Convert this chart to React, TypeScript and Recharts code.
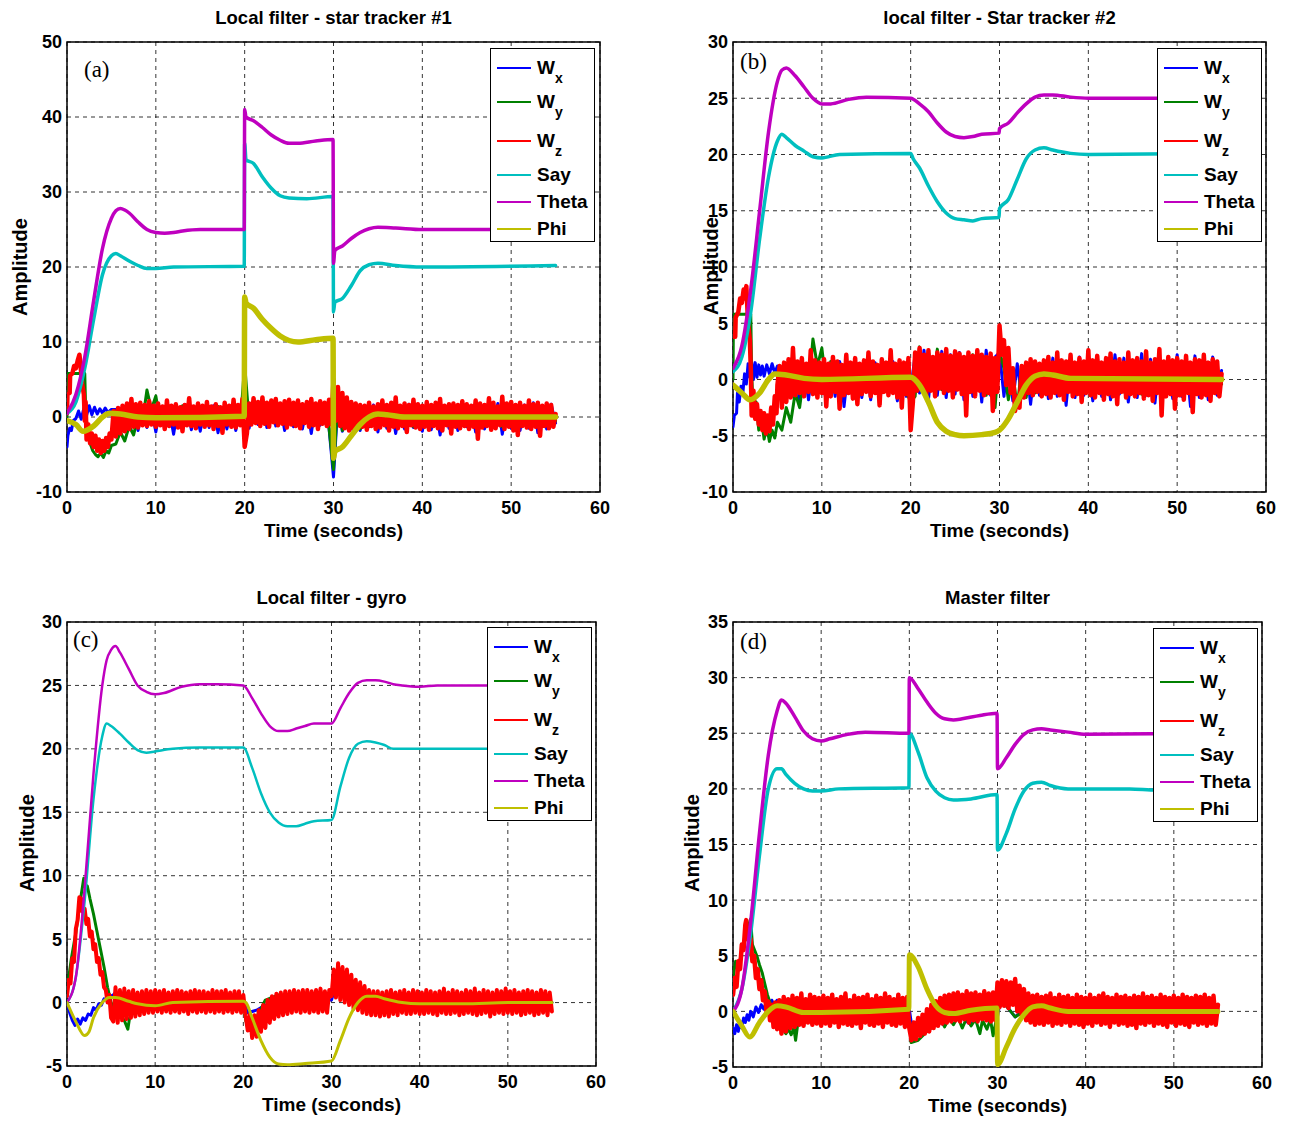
import React from "react";
import { CartesianGrid, Line, LineChart, ReferenceArea, XAxis, YAxis } from "recharts";

type Pt = { t: number; v: number };

const timeTicks = [0, 10, 20, 30, 40, 50, 60];
const seriesNames = ["Wx", "Wy", "Wz", "Say", "Theta", "Phi"];
const seriesColors = ["#0000ff", "#008000", "#ff0000", "#00bfbf", "#bf00bf", "#bfbf00"];

// ---------- (a) Local filter - star tracker #1 ----------
const yTicksA = [-10, 0, 10, 20, 30, 40, 50];
const thetaA = [[0, 0.5], [1, 3], [2, 8], [3, 15.5], [4, 22.5], [5, 26.5], [5.5, 27.5], [6, 27.8], [6.5, 27.6], [7, 27.2], [8, 26], [9, 25], [10, 24.6], [11, 24.5], [12, 24.6], [13, 24.8], [15, 25], [19.95, 25], [20, 41], [20.15, 40], [21, 39.5], [22, 38.6], [23, 37.6], [24, 36.9], [25, 36.5], [26, 36.5], [28, 36.8], [29.95, 37], [30, 20.5], [30.15, 22.2], [31, 22.8], [32, 23.8], [33, 24.6], [34, 25.1], [35, 25.3], [37, 25.2], [40, 25], [55, 25]];
const sayA = [[0, 0.5], [1, 2], [2, 6.5], [3, 13], [4, 19], [5, 21.5], [5.5, 21.8], [6, 21.5], [7, 20.8], [8, 20.2], [9, 19.8], [10, 19.8], [12, 20], [19.95, 20.1], [20, 36.5], [20.15, 34.3], [21, 33.8], [22, 32], [23, 30.5], [24, 29.5], [25, 29.2], [27, 29.1], [29.95, 29.4], [30, 14], [30.15, 15.3], [31, 15.8], [32, 17.5], [33, 19.5], [34, 20.3], [35, 20.5], [37, 20.2], [40, 20], [55, 20.2]];
const phiA = [[0, -0.5], [1, -1], [1.8, -1.9], [3, -1.2], [4, 0], [4.8, 0.5], [6, 0.4], [8, 0], [10, -0.1], [19.95, 0.1], [20, 16], [20.15, 15.2], [21, 14.5], [22, 13], [23, 11.8], [24, 10.8], [25, 10.2], [26, 10], [28, 10.3], [29.95, 10.5], [30, -5.5], [30.15, -4.6], [31, -4], [32, -2.5], [33, -1], [34, 0], [35, 0.4], [36, 0.3], [38, 0], [55, 0]];
const wxHeadA = [[0, -4], [0.1, -2.5], [0.3, -1.5], [0.5, -1.8], [0.7, -0.5], [1, -0.2], [1.3, 0.8], [1.6, -0.3], [1.9, 1.2], [2.2, 0.2], [2.5, 1.5], [2.8, 0.3], [3.1, 1.3], [3.4, 0.4], [3.7, 1.1], [4, 0.5], [4.3, 1.2], [4.6, 0.6], [5, 1.0]];
const wxNoiseA = [
  1.0, -1.2, 1.3, -1.5, 0.9, -1.8, 1.2, -1.4, 1.1, -2.0,
  1.3, -1.6, 1.0, -2.3, 1.2, -1.5, 1.4, -1.7, 0.9, -1.9,
  1.1, -1.4, 1.5, -2.1, 1.0, -1.6, 1.3, -1.8, 1.2, -1.5,
  -1.5, 1.6, -1.0, 1.8, -1.4, 2.0, -1.2, 1.5, -1.8, 1.7,
  -1.3, 1.9, -1.6, 1.4, -2.2, 1.8, -1.1, 1.5, -1.5, -8.0,
  2.0, -1.9, 1.5, -1.6, 1.2, -1.8, 1.4, -1.3, 1.6, -2.0,
  1.2, -1.5, 1.4, -2.2, 1.1, -1.6, 1.7, -1.4, 1.3, -1.9,
  1.5, -1.7, 1.2, -2.4, 1.4, -1.5, 1.0, -1.8, 1.6, -1.3,
  1.3, -2.0, 1.1, -1.6, 1.5, -1.4, 1.8, -2.3, 1.2, -1.5,
  1.4, -1.8, 1.6, -1.5, 1.9, -2.1, 1.3, -1.6, 1.7, -0.8,
];
const wyHeadA = [[0, 0], [0.05, 5.8], [2.0, 5.8], [2.1, 1], [2.3, -2], [2.6, -3.5], [2.9, -4.5], [3.2, -5], [3.5, -5.3], [3.8, -4.8], [4.1, -5.4], [4.4, -4.5], [4.7, -4.8], [5, -3.8]];
const wyNoiseA = [
  -3.6, -2.0, -3.2, -1.2, -2.4, 0.2, -0.6, 3.6, 1.0, 2.8,
  -0.8, 1.4, -1.0, 1.2, -0.9, 1.5, -1.1, 1.0, -0.7, 1.3,
  -1.0, 1.2, -0.8, 1.4, -1.2, 1.1, -0.9, 1.3, -1.0, 7.0,
  -0.5, 2.2, 0.1, 2.5, -0.4, 2.0, -0.6, 1.8, -0.8, 1.6,
  -1.0, 1.5, -0.7, 1.3, -1.1, 1.2, -0.9, 1.4, -1.5, -7.0,
  2.5, -1.8, 1.8, -1.5, 1.2, -1.6, 0.9, -1.2, 1.0, -1.0,
  1.1, -1.2, 0.8, -1.0, 1.3, -0.9, 1.0, -1.3, 0.9, -1.1,
  1.2, -0.8, 1.0, -1.2, 0.9, -1.0, 1.1, -0.9, 1.3, -1.1,
  0.8, -1.2, 1.0, -0.9, 1.2, -1.0, 0.9, -1.3, 1.1, -0.8,
  1.0, -1.1, 1.2, -0.9, 0.8, -1.2, 1.1, -1.0, 0.9, -0.5,
];
const wzHeadA = [[0, 0.5], [0.05, 3], [0.3, 3.2], [0.35, 5.5], [0.6, 5.8], [0.8, 6.8], [1.0, 6.5], [1.2, 7.5], [1.4, 8.3], [1.5, 7.2], [1.7, 4.5], [1.9, 3], [2.0, -0.5], [2.1, 2], [2.2, -3], [2.4, -1], [2.6, -3.5], [2.8, -2.2], [3.0, -4], [3.2, -2.5], [3.4, -4.5], [3.6, -3], [3.8, -4.8], [4.0, -3.2], [4.2, -4.5], [4.4, -2.8], [4.6, -4.0], [4.8, -2.2], [5.0, -3.0]];
const wzNoiseA = [
  0.8, -2.6, 1.2, -2.2, 1.5, -1.9, 1.8, -1.6, 2.4, -1.3, 1.7, -1.4, 1.9, -1.1, 1.6, -1.2, 2.1, -1.0, 1.5, -1.3,
  1.8, -1.1, 1.4, -1.6, 2.2, -1.2, 1.5, -1.0, 1.7, -1.4, 1.3, -1.9, 1.6, -1.1, 2.5, -1.2, 1.4, -1.5, 1.8, -1.0,
  1.5, -1.3, 2.0, -1.1, 1.4, -1.6, 1.7, -1.2, 1.3, -2.1, 1.9, -1.0, 1.5, -1.3, 2.3, -1.4, 1.6, -1.1, 2.4, -4.0,
  -2.2, 1.8, -1.0, 2.5, -0.8, 2.0, -1.2, 2.6, -0.9, 1.9, -1.3, 2.2, -0.7, 2.4, -1.1, 1.8, -0.9, 2.1, -1.4, 2.3,
  -1.0, 1.9, -1.2, 2.2, -1.5, 1.7, -0.8, 2.0, -1.3, 2.4, -1.1, 1.8, -1.6, 2.1, -0.9, 1.9, -1.2, 2.3, -1.0, 5.0,
  -0.5, 4.0, -1.2, 3.2, -1.5, 2.6, -1.8, 2.0, -1.6, 1.8, -1.5, 1.6, -1.3, 1.5, -1.7, 1.9, -1.2, 1.4, -1.6, 1.7,
  -1.4, 2.2, -1.1, 1.6, -1.8, 1.9, -1.3, 2.6, -1.5, 1.5, -1.2, 1.8, -2.0, 1.6, -1.1, 2.3, -1.4, 1.7, -1.6, 1.5,
  -1.3, 2.0, -1.7, 1.6, -1.2, 1.9, -1.5, 2.4, -1.8, 1.5, -1.1, 1.7, -2.2, 1.8, -1.3, 1.6, -1.5, 2.1, -1.2, 1.7,
  -1.6, 1.5, -1.3, 2.2, -2.9, 1.8, -1.4, 1.6, -1.2, 2.5, -1.7, 1.9, -1.5, 1.4, -1.1, 2.7, -1.6, 1.8, -1.3, 2.0,
  -1.8, 1.6, -2.4, 1.9, -1.2, 1.5, -1.4, 2.2, -1.6, 1.7, -1.3, 1.9, -2.5, 1.5, -1.2, 1.8, -1.5, 1.6, -1.3, 0.4,
];

// ---------- (b) local filter - Star tracker #2 ----------
const yTicksB = [-10, -5, 0, 5, 10, 15, 20, 25, 30];
const thetaB = [[0, 1], [1, 3], [2, 8], [3, 15], [4, 22], [5, 26.5], [5.5, 27.5], [6, 27.7], [7, 27], [8, 26], [9, 25], [10, 24.5], [11, 24.5], [13, 24.9], [15, 25.1], [20, 25], [21, 24.5], [22, 23.8], [23, 22.8], [24, 22], [25, 21.6], [26, 21.5], [27, 21.6], [28, 21.8], [29.95, 21.9], [30, 22.3], [31, 22.8], [32, 23.7], [33, 24.5], [34, 25.1], [35, 25.3], [36, 25.3], [38, 25.1], [40, 25], [55, 25]];
const sayB = [[0, 0.7], [1, 2], [2, 6], [3, 12.5], [4, 18], [5, 21.2], [5.5, 21.8], [6, 21.5], [7, 20.8], [8, 20.3], [9, 19.8], [10, 19.7], [12, 20], [20, 20.1], [20.3, 19.6], [21, 18.8], [22, 17.2], [23, 15.8], [24, 14.8], [25, 14.3], [26, 14.2], [27, 14.1], [28, 14.3], [29.95, 14.4], [30, 15.2], [31, 16], [32, 17.8], [33, 19.6], [34, 20.4], [35, 20.6], [36, 20.4], [38, 20.1], [40, 20], [55, 20.1]];
const phiB = [[0, -0.5], [1, -1.2], [1.9, -1.8], [3, -1.2], [4, 0], [4.7, 0.5], [6, 0.4], [8, 0.1], [10, 0], [20, 0.2], [21, -0.5], [22, -2], [23, -3.8], [24, -4.6], [25, -4.9], [26, -5], [28, -4.9], [29.5, -4.7], [30, -4.5], [31, -3.5], [32, -2], [33, -0.5], [34, 0.3], [35, 0.5], [36, 0.4], [38, 0.1], [55, 0]];
const wxHeadB = [[0, -4.2], [0.15, -3.2], [0.4, -3], [0.5, -1.2], [0.7, -2], [0.9, -0.6], [1.1, -1.3], [1.3, 0.5], [1.5, -0.4], [1.7, 1.4], [1.9, 0.2], [2.1, 1.6], [2.3, 0], [2.5, 1.5], [2.7, 0.2], [2.9, 1.3], [3.1, 0.4], [3.3, 1.2], [3.5, 0.3], [3.8, 1.3], [4.1, 0.5], [4.4, 1.4], [4.7, 0.6], [5, 1.2]];
const wxNoiseB = [
  -1.0, 1.4, -1.6, 1.2, -2.0, 1.1, -1.8, 1.3, -1.4, 1.0,
  -2.1, 1.3, -1.5, 1.6, -2.4, 1.2, -1.7, 1.4, -1.6, 1.1,
  -1.8, 1.5, -2.2, 1.3, -1.4, 1.6, -1.9, 1.2, -1.5, -1.0,
  2.2, -1.2, 2.6, -1.8, 2.0, -1.4, 2.5, -1.6, 2.2, -1.3,
  2.4, -1.8, 2.1, -1.5, 2.3, -2.0, 2.6, -1.4, 2.0, 2.4,
  -1.5, 1.8, -1.9, 1.4, -1.6, 1.5, -2.2, 1.3, -1.4, 1.6,
  -1.7, 1.9, -1.5, 1.4, -2.3, 1.8, -1.6, 2.0, -1.4, 1.5,
  -1.9, 2.1, -1.5, 1.7, -1.8, 2.2, -1.3, 1.9, -2.0, 1.6,
  -1.6, 2.3, -1.4, 1.8, -2.1, 2.0, -1.5, 1.9, -1.7, 2.2,
  -1.5, 1.8, -2.4, 2.1, -1.6, 1.9, -1.8, 2.0, -1.4, 0.8,
];
const wyHeadB = [[0, 0], [0.05, 5.8], [2.0, 5.8], [2.1, 0.5], [2.3, -3], [2.6, -2], [2.9, -4.5], [3.2, -3.5], [3.5, -5.3], [3.8, -4.2], [4.1, -5.5], [4.4, -4.5], [4.7, -5.2], [5.0, -3.8]];
const wyNoiseB = [
  -4.5, -2.5, -3.8, -1.2, -2.5, 0.5, -0.8, 3.6, 1.2, 2.8,
  -0.5, 1.6, -1.0, 1.3, -0.9, 1.5, -1.2, 1.2, -0.8, 1.4,
  -1.1, 1.3, -0.9, 1.5, -1.0, 1.2, -0.8, 1.4, -1.1, -2.0,
  -1.5, 2.9, -0.8, 2.5, -0.5, 2.7, -0.9, 2.2, -1.0, 2.4,
  -0.7, 2.0, -1.2, 2.2, -0.9, 1.8, -1.4, 1.9, -2.5, 2.5,
  1.0, -1.8, 0.5, -2.5, 1.2, -1.6, 1.0, -1.2, 1.1, -1.0,
  1.1, -1.2, 0.9, -1.0, 1.2, -1.1, 0.8, -1.3, 1.0, -0.9,
  1.2, -1.0, 0.9, -1.2, 1.1, -0.8, 1.3, -1.1, 0.9, -1.0,
  1.0, -1.3, 1.1, -0.9, 1.2, -1.1, 0.8, -1.0, 1.1, -1.2,
  0.9, -1.0, 1.2, -1.1, 1.0, -0.9, 1.1, -1.2, 0.8, -0.4,
];
const wzHeadB = [[0, 3.8], [0.25, 3.8], [0.3, 5.5], [0.6, 6], [0.8, 7.2], [1.0, 6.8], [1.2, 8.0], [1.35, 7.2], [1.5, 8.3], [1.7, 5], [1.9, 3.5], [2.0, 1], [2.1, -3.2], [2.3, -1], [2.5, -3.5], [2.7, -2.2], [2.9, -4], [3.1, -2.8], [3.3, -4.5], [3.5, -3], [3.7, -4.8], [3.9, -3.2], [4.1, -4.6], [4.3, -2.5], [4.5, -4], [4.7, -1.5], [4.9, -3], [5.0, -0.5]];
const wzNoiseB = [
  1.2, -2.5, 1.5, -2.0, 1.8, -1.6, 2.8, -1.4, 1.6, -1.2, 1.9, -1.5, 1.4, -1.1, 2.6, -1.3, 1.7, -1.6, 1.5, -1.2,
  1.8, -2.4, 1.4, -1.5, 2.0, -1.1, 1.6, -2.6, 1.3, -1.4, 2.2, -1.2, 1.5, -1.7, 1.9, -2.2, 1.4, -1.3, 1.7, -1.1,
  2.4, -1.5, 1.6, -1.2, 1.3, -2.3, 1.8, -1.1, 1.5, -1.4, 2.6, -1.2, 1.4, -1.6, 1.7, -2.5, 1.5, -1.3, 1.9, -4.5,
  -2.0, 2.4, -1.0, 2.8, -0.6, 2.2, -1.4, 2.6, -1.0, 2.0, -1.5, 2.4, -0.8, 2.2, -1.2, 2.7, -1.0, 2.1, -1.6, 2.5,
  -0.9, 2.3, -1.3, 2.0, -3.2, 2.4, -1.1, 2.1, -1.5, 2.6, -1.0, 2.2, -1.4, 2.0, -1.2, 2.3, -2.8, 1.9, -1.1, 4.8,
  2.2, 3.5, -0.5, 2.8, -1.2, 1.0, -2.8, -1.5, -2.5, 1.2, -1.6, 1.5, -1.2, 1.8, -1.4, 1.6, -1.1, 1.4, -1.5, 1.7,
  -1.3, 2.0, -1.6, 1.5, -1.2, 2.4, -1.4, 1.7, -1.8, 1.6, -1.1, 2.2, -1.5, 1.5, -1.3, 1.9, -2.0, 1.6, -1.2, 2.6,
  -1.4, 1.7, -1.6, 2.1, -1.2, 1.5, -1.8, 1.9, -1.3, 2.3, -1.5, 1.6, -2.2, 1.8, -1.1, 1.5, -1.6, 2.4, -1.3, 1.7,
  -1.5, 1.9, -1.2, 1.6, -1.7, 2.5, -1.4, 1.5, -1.9, 1.8, -1.2, 2.7, -3.2, 1.6, -1.5, 2.0, -1.3, 1.7, -2.6, 1.9,
  -1.4, 1.6, -1.8, 2.1, -1.2, 1.5, -2.9, 1.8, -1.3, 1.7, -1.6, 2.2, -1.4, 1.5, -1.9, 1.8, -1.2, 1.6, -1.5, 0.5,
];

// ---------- (c) Local filter - gyro ----------
const yTicksC = [-5, 0, 5, 10, 15, 20, 25, 30];
const thetaC = [[0, 0], [1, 2], [2, 9], [3, 18], [4, 25], [4.5, 27], [5, 27.8], [5.5, 28.1], [6, 27.6], [7, 26.3], [8, 25], [9, 24.5], [10, 24.3], [11, 24.4], [13, 24.9], [15, 25.1], [17, 25.1], [20, 25], [21, 24], [22, 22.8], [23, 21.8], [24, 21.4], [25, 21.4], [26, 21.6], [27, 21.8], [28, 22], [30, 22], [31, 23.2], [32, 24.4], [33, 25.2], [34, 25.4], [35, 25.4], [36, 25.3], [37, 25.1], [38, 25], [40, 24.9], [42, 25], [55, 25]];
const sayC = [[0, 0], [1, 2], [2, 8], [3, 16], [4, 21], [4.5, 22], [5, 21.8], [6, 21.2], [7, 20.5], [8, 19.9], [9, 19.7], [10, 19.8], [12, 20], [15, 20.1], [20, 20.1], [21, 18.5], [22, 16.5], [23, 15], [24, 14.2], [25, 13.9], [26, 13.9], [27, 14.1], [28, 14.3], [30, 14.4], [31, 17], [32, 19.3], [33, 20.4], [34, 20.6], [35, 20.5], [36, 20.3], [37, 20], [40, 20], [45, 20], [48, 20], [55, 20.1]];
const phiC = [[0, 0], [1, -1.5], [2, -2.6], [2.5, -2.3], [3, -1.2], [4, 0], [4.8, 0.4], [5.5, 0.4], [7, 0.1], [8, -0.1], [10, -0.25], [12, 0], [20, 0.1], [20.3, 0], [21, -1.2], [22, -3], [23, -4.3], [24, -4.85], [25, -4.9], [27, -4.8], [30, -4.6], [31, -3], [32, -1.2], [33, 0], [34, 0.5], [35, 0.5], [36, 0.3], [38, 0], [40, -0.1], [45, -0.1], [50, 0], [55, 0]];
const wxC = [[0, 0], [0.3, -0.8], [0.6, -1.4], [0.9, -1.8], [1.2, -1.3], [1.5, -1.7], [1.8, -1.2], [2.1, -1.4], [2.4, -0.9], [2.7, -1.0], [3.0, -0.4], [3.3, -0.6], [3.6, -0.1], [3.9, -0.2], [4.2, 0.3], [4.5, 0.2], [4.8, 0.6], [5.1, 0.5], [5.5, 0.8], [6, 0.6], [6.5, 0.8], [7, 0.6], [7.5, 0.5], [8, 0.3], [10, 0.2], [15, 0.2], [20, 0.2], [20.5, -0.8], [21.5, -0.6], [22.5, -0.2], [24, 0.1], [30, 0.2], [30.3, 0.9], [31.5, 0.6], [32.5, 0.2], [33, -0.5], [34, 0.1], [55, 0]];
const wyC = [[0, 1], [0.5, 3.5], [1, 5.5], [1.5, 8], [1.9, 9.8], [2.1, 9.0], [2.3, 9.2], [2.6, 8.2], [3.0, 7.0], [3.4, 5.6], [3.8, 4.2], [4.2, 2.8], [4.6, 1.2], [5.0, 0.0], [5.5, -0.6], [6.0, -1.0], [6.5, -1.4], [6.9, -2.1], [7.1, -1.2], [7.6, -0.6], [8.5, -0.3], [10, 0], [20, 0], [20.3, -1.5], [21, -1.8], [22, -0.5], [22.5, 0.2], [24, 0.6], [29.9, 0.5], [30.2, 1.3], [31, 1.0], [32, 0.5], [33, 0], [55, 0]];
const wzHeadC = [[0, 0.5], [0.2, 1.8], [0.4, 1.5], [0.6, 3.5], [0.8, 3.2], [1.0, 5.8], [1.2, 6.5], [1.4, 8.3], [1.5, 7.6], [1.6, 8.2], [1.7, 7.2], [1.8, 7.8], [1.9, 6.8], [2.0, 7.4], [2.2, 6.2], [2.4, 6.6], [2.6, 5.2], [2.8, 5.6], [3.0, 4.2], [3.2, 4.6], [3.4, 3.2], [3.6, 3.5], [3.8, 2.2], [4.0, 2.4], [4.2, 1.2], [4.4, 1.0], [4.6, 0.0], [4.8, 0.6], [5.0, -1.2]];
const wzNoiseC = [
  -1.5, 1.2, -1.6, 1.0, -1.4, 1.1, -1.3, 0.9, -1.2, 1.0, -1.1, 0.8, -1.0, 0.9, -0.9, 1.0, -0.8, 0.9, -0.8, 1.0,
  -0.7, 0.9, -0.8, 1.0, -0.7, 0.8, -0.8, 0.9, -0.7, 1.0, -0.8, 0.9, -0.7, 0.8, -0.9, 0.9, -0.7, 1.0, -0.8, 0.9,
  -0.7, 0.9, -0.8, 0.8, -0.7, 1.0, -0.8, 0.9, -0.7, 0.9, -0.8, 1.0, -0.7, 0.8, -0.8, 0.9, -0.7, 0.9, -0.8, 0.6,
  -1.0, -2.2, -0.9, -2.8, -1.0, -2.7, -0.6, -2.3, -0.2, -2.0, 0.2, -1.6, 0.5, -1.3, 0.7, -1.1, 0.8, -1.0, 0.9, -0.9,
  0.9, -0.8, 1.0, -0.7, 0.9, -0.8, 1.0, -0.7, 1.0, -0.8, 0.9, -0.7, 1.0, -0.8, 1.1, -0.7, 0.9, -0.8, 1.0, 0.5,
  2.6, 0.4, 3.1, 0.2, 2.8, 0.0, 2.6, -0.2, 2.2, -0.5, 1.8, -0.6, 1.6, -0.8, 1.3, -0.9, 1.0, -1.0, 0.9, -1.0,
  0.9, -1.1, 0.8, -1.0, 0.9, -1.1, 1.0, -0.9, 0.8, -1.0, 0.9, -0.8, 1.0, -0.9, 0.8, -0.9, 1.0, -0.8, 0.9, -0.9,
  0.8, -0.9, 1.0, -0.8, 0.9, -0.9, 0.8, -1.0, 0.9, -0.8, 1.1, -0.9, 0.8, -0.9, 1.0, -0.8, 0.9, -1.0, 0.8, -0.9,
  1.0, -0.8, 0.9, -0.9, 1.1, -1.0, 0.8, -0.9, 1.0, -0.8, 0.9, -1.1, 0.8, -0.9, 1.0, -0.8, 0.9, -0.9, 1.1, -0.8,
  0.9, -0.9, 1.0, -0.8, 0.8, -1.0, 0.9, -0.9, 1.0, -0.8, 0.9, -1.0, 0.8, -0.9, 1.0, -0.8, 0.9, -1.0, 0.8, -0.7,
];

// ---------- (d) Master filter ----------
const yTicksD = [-5, 0, 5, 10, 15, 20, 25, 30, 35];
const thetaD = [[0, 0], [1, 2], [2, 8], [3, 16], [4, 23], [5, 27], [5.5, 28], [6, 27.7], [7, 26.5], [8, 25.2], [9, 24.5], [10, 24.3], [11, 24.5], [13, 24.9], [15, 25.1], [19.95, 25], [20, 30], [21, 29], [22, 27.8], [23, 26.8], [24, 26.3], [25, 26.2], [26, 26.3], [28, 26.6], [29.95, 26.8], [30, 21.8], [31, 22.8], [32, 24], [33, 24.9], [34, 25.3], [35, 25.4], [36, 25.3], [38, 25.1], [40, 24.9], [55, 25]];
const sayD = [[0, 0], [1, 2], [2, 7], [3, 14], [4, 20], [5, 21.8], [5.5, 21.8], [6, 21.3], [7, 20.5], [8, 20], [9, 19.8], [10, 19.8], [12, 20], [19.95, 20.1], [20, 25], [21, 23.3], [22, 21], [23, 19.8], [24, 19.2], [25, 19], [27, 19.1], [29.95, 19.5], [30, 14.5], [31, 16], [32, 18.2], [33, 19.8], [34, 20.5], [35, 20.6], [36, 20.3], [38, 20], [45, 20], [48, 19.9], [55, 20]];
const phiD = [[0, 0], [1, -1.3], [1.9, -2.3], [3, -1], [4, 0], [5, 0.5], [6, 0.4], [8, -0.1], [10, -0.1], [19.95, 0.2], [20, 5.1], [21, 4], [22, 2], [23, 0.5], [24, -0.1], [25, -0.2], [27, 0.1], [29.95, 0.3], [30, -4.8], [31, -3.2], [32, -1.5], [33, -0.3], [34, 0.4], [35, 0.5], [36, 0.3], [38, 0], [55, 0]];
const wxD = [[0, -1.5], [0.2, -2.0], [0.4, -1.2], [0.6, -1.8], [0.8, -0.9], [1.0, -1.5], [1.2, -0.6], [1.4, -1.0], [1.6, -0.3], [1.8, -0.8], [2.0, 0.0], [2.3, -0.5], [2.6, 0.4], [2.9, -0.1], [3.2, 0.6], [3.5, 0.2], [3.8, 0.9], [4.1, 0.4], [4.4, 1.0], [4.7, 0.5], [5, 1.0], [5.5, 0.6], [6, 1.0], [6.5, 0.7], [7, 0.8], [8, 0.5], [10, 0.2], [20, 0.2], [20.3, -1.5], [21, -1.2], [22, -0.8], [23, -0.6], [24, -1.3], [24.5, -0.5], [26, -0.6], [27, -1.2], [27.5, -0.5], [30, -0.5], [30.3, 0.9], [31, 0.5], [32, -0.5], [33, 0.2], [35, 0], [55, 0]];
const wyD = [[0, 3], [0.3, 4.5], [0.6, 3.8], [1.0, 5.5], [1.4, 6.5], [1.8, 7.8], [2.0, 8.3], [2.2, 6.0], [2.4, 5.6], [2.7, 5.0], [3.0, 4.2], [3.3, 3.5], [3.6, 2.5], [3.9, 1.5], [4.2, 0.8], [4.5, -0.3], [5.0, -1.0], [5.5, -1.4], [6.0, -2.0], [6.3, -1.6], [6.6, -2.1], [6.9, -1.5], [7.1, -2.6], [7.4, -0.8], [8, -0.6], [10, -0.3], [20, -0.5], [20.2, -2.8], [21, -2.6], [22, -1.8], [23, -1.2], [23.5, -0.5], [24, -1.4], [24.5, -0.6], [25, -1.2], [25.5, -0.5], [26, -1.5], [26.5, -0.6], [27, -1.3], [27.5, -0.7], [28, -2.0], [28.3, -0.8], [28.8, -1.6], [29.2, -0.7], [29.5, -2.2], [29.8, -1.0], [30.2, 0.8], [31, 0.5], [32, -0.5], [33, 0], [55, 0]];
const wzHeadD = [[0, 1.5], [0.2, 3], [0.4, 2.2], [0.6, 4.5], [0.8, 3.8], [1.0, 6], [1.2, 5.5], [1.4, 7.8], [1.5, 8.2], [1.6, 6.5], [1.8, 7.5], [1.9, 5.2], [2.0, 6.5], [2.2, 4.5], [2.4, 5.0], [2.6, 3.0], [2.8, 3.8], [3.0, 2.0], [3.2, 2.8], [3.4, 1.0], [3.6, 1.8], [3.8, 0.0], [4.0, 0.9], [4.2, -0.8], [4.4, 0.6], [4.6, -1.4], [4.8, 0.8], [5.0, -1.6]];
const wzNoiseD = [
  1.0, -2.0, 1.3, -1.8, 1.1, -1.5, 1.4, -1.4, 1.2, -1.2, 1.6, -1.3, 1.1, -1.0, 1.5, -1.2, 1.3, -1.1, 1.2, -1.3,
  1.4, -1.1, 1.2, -1.3, 1.5, -1.0, 1.1, -1.4, 1.3, -1.1, 1.6, -1.2, 1.0, -1.3, 1.4, -1.1, 1.2, -1.5, 1.3, -1.0,
  1.5, -1.2, 1.1, -1.3, 1.4, -1.1, 1.2, -1.4, 1.6, -1.0, 1.3, -1.2, 1.1, -1.3, 1.5, -1.1, 1.2, -1.4, 1.3, -1.5,
  -2.6, -1.0, -2.5, -0.6, -2.2, -0.3, -2.0, 0.2, -1.8, 0.6, -1.5, 0.9, -1.3, 1.2, -1.1, 1.4, -1.0, 1.5, -0.9, 1.6,
  -0.8, 1.7, -0.9, 1.5, -0.7, 1.8, -1.0, 1.6, -0.8, 1.7, -0.9, 1.5, -0.7, 1.8, -0.8, 1.6, -0.9, 1.7, -0.8, 2.6,
  0.4, 2.8, 0.5, 2.7, 0.3, 2.6, 0.6, 2.9, 0.0, 2.3, -0.3, 2.0, -0.8, 1.6, -1.0, 1.4, -1.2, 1.5, -1.1, 1.3,
  -1.2, 1.4, -1.0, 1.6, -1.3, 1.2, -1.1, 1.5, -1.2, 1.3, -1.0, 1.4, -1.3, 1.2, -1.1, 1.5, -1.2, 1.3, -1.4, 1.2,
  -1.1, 1.5, -1.3, 1.2, -1.0, 1.4, -1.2, 1.6, -1.1, 1.3, -1.4, 1.2, -1.0, 1.5, -1.2, 1.3, -1.1, 1.4, -1.3, 1.2,
  -1.2, 1.4, -1.5, 1.3, -1.1, 1.6, -1.2, 1.3, -1.0, 1.4, -1.3, 1.2, -1.1, 1.5, -1.2, 1.3, -1.4, 1.2, -1.0, 1.4,
  -1.3, 1.2, -1.1, 1.5, -1.2, 1.3, -1.4, 1.2, -1.0, 1.4, -1.2, 1.3, -1.1, 1.5, -1.3, 1.2, -1.1, 1.4, -1.2, 0.6,
];

// pairs -> points, and evenly spaced samples -> points
const pts = (pairs: number[][]): Pt[] => pairs.map(([t, v]) => ({ t, v }));
const sampled = (t0: number, dt: number, vals: number[]): Pt[] =>
  vals.map((v, i) => ({ t: Math.round((t0 + i * dt) * 100) / 100, v }));

type PanelCfg = {
  tag: string;
  title: string;
  plotLeft: number;
  plotTop: number;
  plotW: number;
  plotH: number;
  yTicks: number[];
  lines: Pt[][];
  widths: number[];
  ylabelX: number;
  ylabelY: number;
  tagX: number;
  tagY: number;
  legendX: number;
  legendY: number;
};

const panels: PanelCfg[] = [
  {
    tag: "(a)", title: "Local filter - star tracker #1",
    plotLeft: 67, plotTop: 42, plotW: 533, plotH: 450, yTicks: yTicksA,
    lines: [
      [...pts(wxHeadA), ...sampled(5.5, 0.5, wxNoiseA)],
      [...pts(wyHeadA), ...sampled(5.5, 0.5, wyNoiseA)],
      [...pts(wzHeadA), ...sampled(5.25, 0.25, wzNoiseA)],
      pts(sayA), pts(thetaA), pts(phiA),
    ],
    widths: [3, 3, 4.5, 3.5, 3.5, 5.5],
    ylabelX: 20, ylabelY: 267, tagX: 84, tagY: 57, legendX: 490, legendY: 48,
  },
  {
    tag: "(b)", title: "local filter - Star tracker #2",
    plotLeft: 733, plotTop: 42, plotW: 533, plotH: 450, yTicks: yTicksB,
    lines: [
      [...pts(wxHeadB), ...sampled(5.5, 0.5, wxNoiseB)],
      [...pts(wyHeadB), ...sampled(5.5, 0.5, wyNoiseB)],
      [...pts(wzHeadB), ...sampled(5.25, 0.25, wzNoiseB)],
      pts(sayB), pts(thetaB), pts(phiB),
    ],
    widths: [3, 3, 4.5, 3.5, 3.5, 5.5],
    ylabelX: 711, ylabelY: 266, tagX: 740, tagY: 49, legendX: 1157, legendY: 48,
  },
  {
    tag: "(c)", title: "Local filter - gyro",
    plotLeft: 67, plotTop: 622, plotW: 529, plotH: 444, yTicks: yTicksC,
    lines: [
      pts(wxC), pts(wyC),
      [...pts(wzHeadC), ...sampled(5.25, 0.25, wzNoiseC)],
      pts(sayC), pts(thetaC), pts(phiC),
    ],
    widths: [3, 3, 4, 2.5, 2.5, 3],
    ylabelX: 27, ylabelY: 843, tagX: 73, tagY: 627, legendX: 487, legendY: 627,
  },
  {
    tag: "(d)", title: "Master filter",
    plotLeft: 733, plotTop: 622, plotW: 529, plotH: 445, yTicks: yTicksD,
    lines: [
      pts(wxD), pts(wyD),
      [...pts(wzHeadD), ...sampled(5.25, 0.25, wzNoiseD)],
      pts(sayD), pts(thetaD), pts(phiD),
    ],
    widths: [3, 3, 4.5, 3.5, 3.5, 5],
    ylabelX: 692, ylabelY: 843, tagX: 740, tagY: 629, legendX: 1153, legendY: 628,
  },
];

const FONT = '"Liberation Sans", Arial, Helvetica, sans-serif';
const tickStyle = { fill: "#000", fontSize: 18, fontWeight: 700, fontFamily: FONT };
const legendRows = [19, 53, 92, 126, 153, 180];

function LegendBox({ x, y }: { x: number; y: number }) {
  return (
    <div style={{ position: "absolute", left: x, top: y, width: 103, height: 192, border: "1.5px solid #000", background: "#fff" }}>
      {seriesNames.map((name, i) => (
        <div key={name} style={{ position: "absolute", left: 0, top: legendRows[i] - 11, height: 22, width: 103 }}>
          <div style={{ position: "absolute", left: 6, top: 10, width: 34, height: 2, background: seriesColors[i] }} />
          <div style={{ position: "absolute", left: 46, top: 0, lineHeight: "22px", fontSize: 19, fontWeight: 700, fontFamily: FONT, whiteSpace: "nowrap" }}>
            {name.startsWith("W") ? (
              <>W<span style={{ fontSize: 14, position: "relative", top: 9 }}>{name.slice(1).toLowerCase()}</span></>
            ) : name}
          </div>
        </div>
      ))}
    </div>
  );
}

function Panel({ cfg }: { cfg: PanelCfg }) {
  const yMin = cfg.yTicks[0];
  const yMax = cfg.yTicks[cfg.yTicks.length - 1];
  const cx = cfg.plotLeft + cfg.plotW / 2;
  return (
    <>
      <div style={{ position: "absolute", left: cfg.plotLeft - 70, top: cfg.plotTop - 10 }}>
        <LineChart width={cfg.plotW + 90} height={cfg.plotH + 50} margin={{ top: 10, right: 20, left: 0, bottom: 0 }}>
          <CartesianGrid stroke="#000" strokeDasharray="4 4" strokeWidth={0.8} />
          <XAxis type="number" dataKey="t" domain={[0, 60]} ticks={timeTicks} interval={0} height={40}
            tickSize={0} tickMargin={9} axisLine={false} tick={tickStyle} allowDataOverflow />
          <YAxis type="number" domain={[yMin, yMax]} ticks={cfg.yTicks} interval={0} width={70}
            tickSize={0} tickMargin={5} axisLine={false} tick={tickStyle} allowDataOverflow />
          <ReferenceArea x1={0} x2={60} y1={yMin} y2={yMax} fill="none" stroke="#000" strokeWidth={1.5} />
          {cfg.lines.map((d, i) => (
            <Line key={seriesNames[i]} data={d} dataKey="v" name={seriesNames[i]} type={i >= 3 ? "monotone" : "linear"}
              stroke={seriesColors[i]} strokeWidth={cfg.widths[i]} strokeLinejoin="round" strokeLinecap="round"
              dot={false} activeDot={false} isAnimationActive={false} />
          ))}
        </LineChart>
      </div>
      <div style={{ position: "absolute", left: cx - 200, width: 400, top: cfg.plotTop - 35, textAlign: "center", fontSize: 18.5, fontWeight: 700, fontFamily: FONT }}>
        {cfg.title}
      </div>
      <div style={{ position: "absolute", left: cx - 150, width: 300, top: cfg.plotTop + cfg.plotH + 28, textAlign: "center", fontSize: 19, fontWeight: 700, fontFamily: FONT }}>
        Time (seconds)
      </div>
      <div style={{ position: "absolute", left: cfg.ylabelX - 100, top: cfg.ylabelY - 12, width: 200, height: 24, lineHeight: "24px", textAlign: "center", transform: "rotate(-90deg)", fontSize: 20, fontWeight: 700, fontFamily: FONT }}>
        Amplitude
      </div>
      <div style={{ position: "absolute", left: cfg.tagX, top: cfg.tagY, fontSize: 23, fontFamily: '"Liberation Serif", "Times New Roman", serif' }}>
        {cfg.tag}
      </div>
      <LegendBox x={cfg.legendX} y={cfg.legendY} />
    </>
  );
}

export default function App() {
  return (
    <div style={{ position: "absolute", left: 0, top: 0, width: 1294, height: 1121, background: "#fff" }}>
      {panels.map((p) => (
        <Panel key={p.tag} cfg={p} />
      ))}
    </div>
  );
}
